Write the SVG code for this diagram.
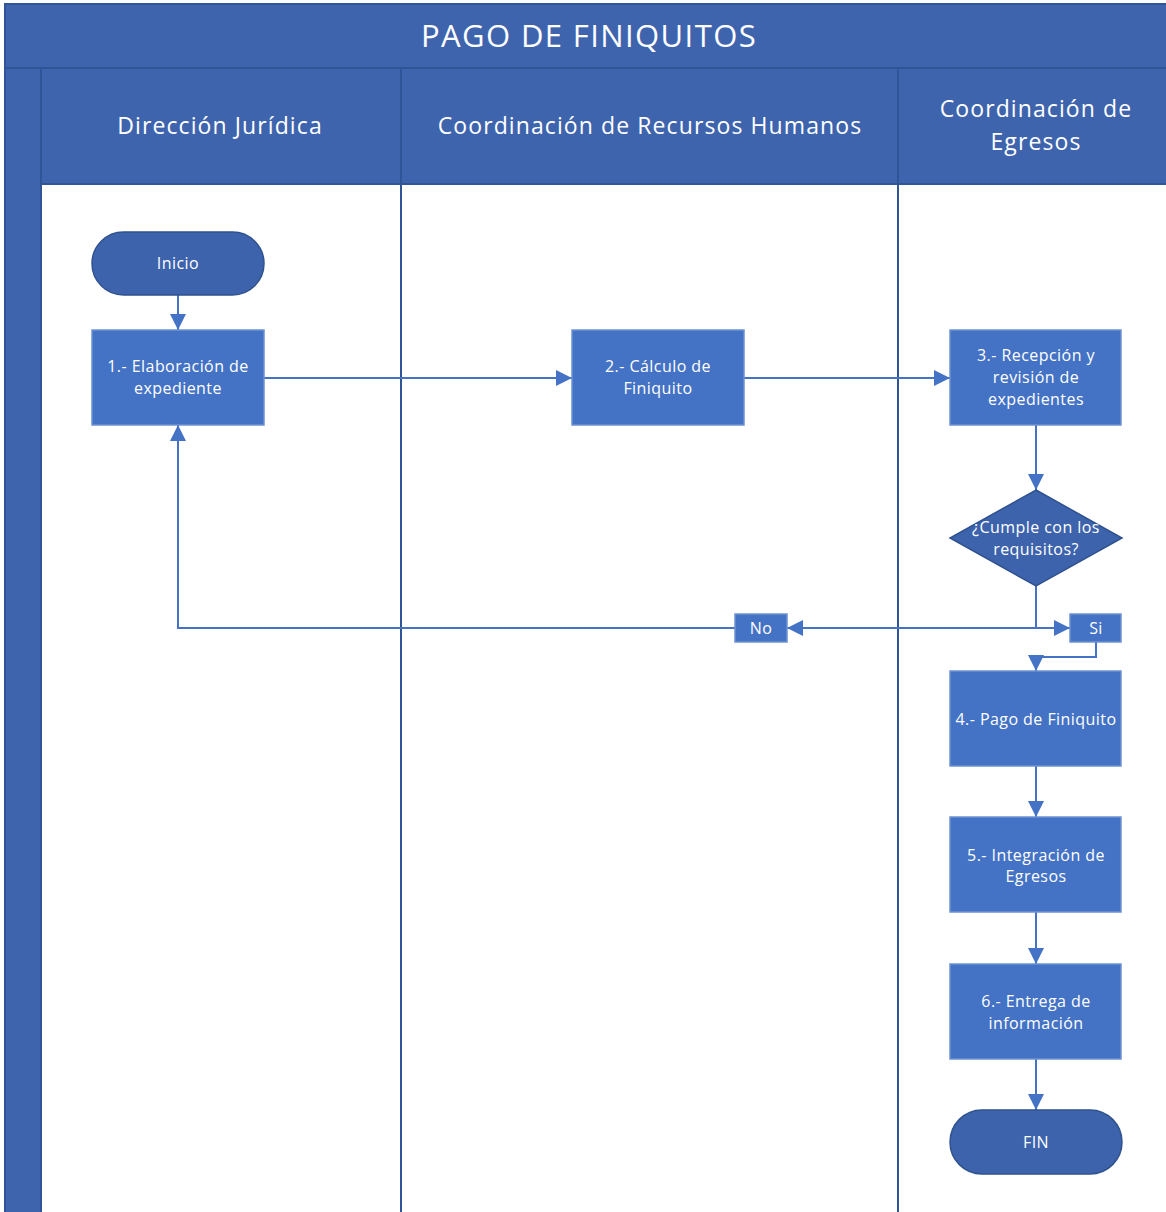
<svg xmlns="http://www.w3.org/2000/svg" width="1166" height="1212" viewBox="0 0 1166 1212">
  <style>
    .band { fill: #3F64AE; stroke: #2F5597; stroke-width: 2; }
    .lane { fill: #FFFFFF; stroke: #2F5597; stroke-width: 2; }
    .rule { stroke: #2F5597; stroke-width: 2; }
    .title { font-family: "Open Sans", "Liberation Sans", sans-serif; font-size: 31px; letter-spacing: 1.4px; fill: #FFFFFF; text-anchor: middle; }
    .head { font-family: "Open Sans", "Liberation Sans", sans-serif; font-size: 23px; letter-spacing: 1.1px; fill: #FFFFFF; text-anchor: middle; }
    .proc { fill: #4472C4; stroke: #6E92D2; stroke-width: 1.5; }
    .term { fill: #3D63AD; stroke: #2F528F; stroke-width: 1.5; }
    .dec { fill: #3D63AD; stroke: #2F528F; stroke-width: 1.5; }
    .lbl { font-family: "Open Sans", "Liberation Sans", sans-serif; font-size: 16px; letter-spacing: 0.45px; fill: #FFFFFF; text-anchor: middle; }
    .conn { fill: none; stroke: #4472C4; stroke-width: 2; }
  </style>
  <defs>
    <marker id="arr" viewBox="0 0 16 16" refX="16" refY="8" markerWidth="16" markerHeight="16" markerUnits="userSpaceOnUse" orient="auto">
      <path d="M0,0 L16,8 L0,16 z" fill="#4472C4"/>
    </marker>
  </defs>

  <!-- pool frame with title band and lane headers -->
  <g id="pool">
    <rect class="band" x="5" y="4" width="1165" height="1215"/>
    <text class="title" x="589" y="47">PAGO DE FINIQUITOS</text>
    <rect class="band" x="41" y="68" width="1129" height="116"/>
    <line class="rule" x1="5" y1="68" x2="1166" y2="68"/>
    <rect class="lane" x="41" y="184" width="360" height="1035"/>
    <rect class="lane" x="401" y="184" width="497" height="1035"/>
    <rect class="lane" x="898" y="184" width="272" height="1035"/>
    <line class="rule" x1="401" y1="68" x2="401" y2="184"/>
    <line class="rule" x1="898" y1="68" x2="898" y2="184"/>
    <text class="head" x="220" y="134">Dirección Jurídica</text>
    <text class="head" x="650" y="134">Coordinación de Recursos Humanos</text>
    <text class="head" x="1036" y="117">Coordinación de</text>
    <text class="head" x="1036" y="150">Egresos</text>
  </g>

  <!-- connectors -->
  <g id="connectors">
    <path class="conn" d="M178 295 V330" marker-end="url(#arr)"/>
    <path class="conn" d="M264 378 H572" marker-end="url(#arr)"/>
    <path class="conn" d="M744 378 H950" marker-end="url(#arr)"/>
    <path class="conn" d="M1036 425 V490" marker-end="url(#arr)"/>
    <path class="conn" d="M1036 586 V628 H1070" marker-end="url(#arr)"/>
    <path class="conn" d="M1036 628 H787" marker-end="url(#arr)"/>
    <path class="conn" d="M735 628 H178 V425" marker-end="url(#arr)"/>
    <path class="conn" d="M1096 642 V657 H1036 V671" marker-end="url(#arr)"/>
    <path class="conn" d="M1036 766 V817" marker-end="url(#arr)"/>
    <path class="conn" d="M1036 912 V964" marker-end="url(#arr)"/>
    <path class="conn" d="M1036 1059 V1110" marker-end="url(#arr)"/>
  </g>

  <!-- nodes -->
  <g id="inicio">
    <rect class="term" x="92" y="232" width="172" height="63" rx="31.5"/>
    <text class="lbl" x="178" y="269">Inicio</text>
  </g>
  <g id="paso1">
    <rect class="proc" x="92" y="330" width="172" height="95"/>
    <text class="lbl" x="178" y="372">1.- Elaboración de</text>
    <text class="lbl" x="178" y="394">expediente</text>
  </g>
  <g id="paso2">
    <rect class="proc" x="572" y="330" width="172" height="95"/>
    <text class="lbl" x="658" y="372">2.- Cálculo de</text>
    <text class="lbl" x="658" y="394">Finiquito</text>
  </g>
  <g id="paso3">
    <rect class="proc" x="950" y="330" width="171" height="95"/>
    <text class="lbl" x="1036" y="361">3.- Recepción y</text>
    <text class="lbl" x="1036" y="383">revisión de</text>
    <text class="lbl" x="1036" y="405">expedientes</text>
  </g>
  <g id="decision">
    <polygon class="dec" points="1036,490 1122,538 1036,586 950,538"/>
    <text class="lbl" x="1036" y="533">¿Cumple con los</text>
    <text class="lbl" x="1036" y="555">requisitos?</text>
  </g>
  <g id="si">
    <rect class="proc" x="1070" y="614" width="51" height="28"/>
    <text class="lbl" x="1096" y="634">Si</text>
  </g>
  <g id="no">
    <rect class="proc" x="735" y="614" width="52" height="28"/>
    <text class="lbl" x="761" y="634">No</text>
  </g>
  <g id="paso4">
    <rect class="proc" x="950" y="671" width="171" height="95"/>
    <text class="lbl" x="1036" y="725">4.- Pago de Finiquito</text>
  </g>
  <g id="paso5">
    <rect class="proc" x="950" y="817" width="171" height="95"/>
    <text class="lbl" x="1036" y="861">5.- Integración de</text>
    <text class="lbl" x="1036" y="882">Egresos</text>
  </g>
  <g id="paso6">
    <rect class="proc" x="950" y="964" width="171" height="95"/>
    <text class="lbl" x="1036" y="1007">6.- Entrega de</text>
    <text class="lbl" x="1036" y="1029">información</text>
  </g>
  <g id="fin">
    <rect class="term" x="950" y="1110" width="172" height="64" rx="32"/>
    <text class="lbl" x="1036" y="1148">FIN</text>
  </g>
</svg>
